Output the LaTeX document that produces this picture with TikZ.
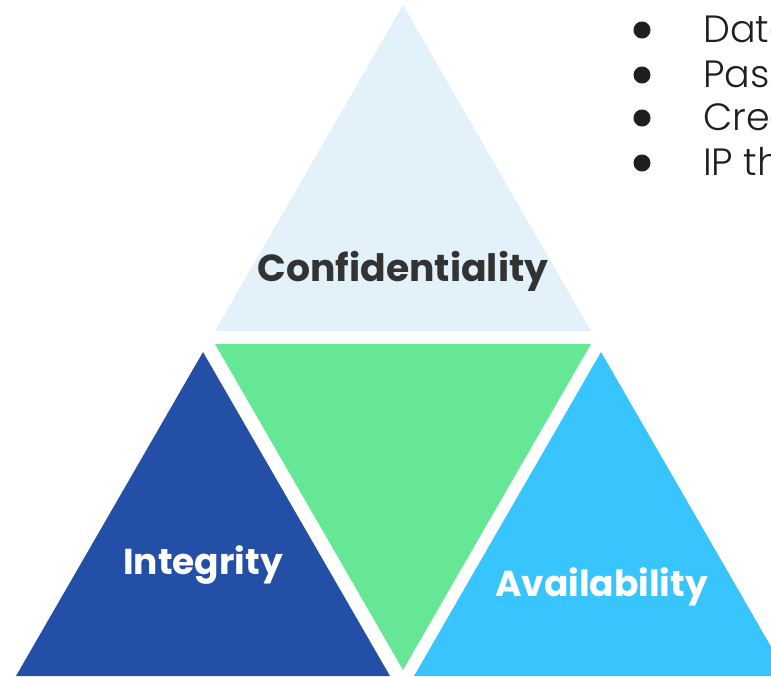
\documentclass[tikz,border=0pt]{standalone}
\usepackage{fontspec}
\setmainfont{Poppins}
\newfontfamily\boldlbl{Poppins}[UprightFont=* Bold]
\newfontfamily\lightlbl{Poppins}[UprightFont=* Light]
\definecolor{conf}{HTML}{E3F2FA}
\definecolor{mid}{HTML}{66E796}
\definecolor{integ}{HTML}{234FA7}
\definecolor{avail}{HTML}{38C5FE}
\definecolor{darktxt}{HTML}{333333}
\definecolor{bullet}{HTML}{1F1F1F}
\tikzset{
  lbl/.style={font=\boldlbl\fontsize{27pt}{30pt}\selectfont, inner sep=0pt, anchor=center},
  biglbl/.style={font=\boldlbl\fontsize{28.3pt}{31pt}\selectfont, inner sep=0pt, anchor=center},
  bl/.style={font=\lightlbl\fontsize{28.5pt}{31pt}\selectfont, inner sep=0pt, anchor=base west, text=bullet},
  dot/.style={circle, fill=bullet, minimum size=12.8pt, inner sep=0pt}
}
\begin{document}
\begin{tikzpicture}[x=0.75pt,y=-0.75pt]
\useasboundingbox (0,0) rectangle (771,676);
% triangles
\fill[conf] (403,5) -- (591,331) -- (215,331) -- cycle;
\fill[mid] (215,344) -- (591,344) -- (403,670) -- cycle;
\fill[integ] (203,352) -- (390,676) -- (16,676) -- cycle;
\fill[avail] (601,352) -- (788,676) -- (414,676) -- cycle;
% labels
\node[biglbl, text=darktxt] (conflbl) at (403,271) {Confidentiality};
\node[lbl, text=white] (intlbl) at (203,565) {Integrity};
\node[lbl, text=white] (avlbl) at (601.5,587) {Availability};
% bullet list
\node[dot] (b1) at (642,30) {};
\node[dot] (b2) at (642,75) {};
\node[dot] (b3) at (642,118) {};
\node[dot] (b4) at (642,163) {};
\node[bl] (t1) at (703,42) {Data};
\node[bl] (t2) at (703,87) {Pass};
\node[bl] (t3) at (703,130) {Cred};
\node[bl] (t4) at (703,175) {IP th};
\end{tikzpicture}
\end{document}
